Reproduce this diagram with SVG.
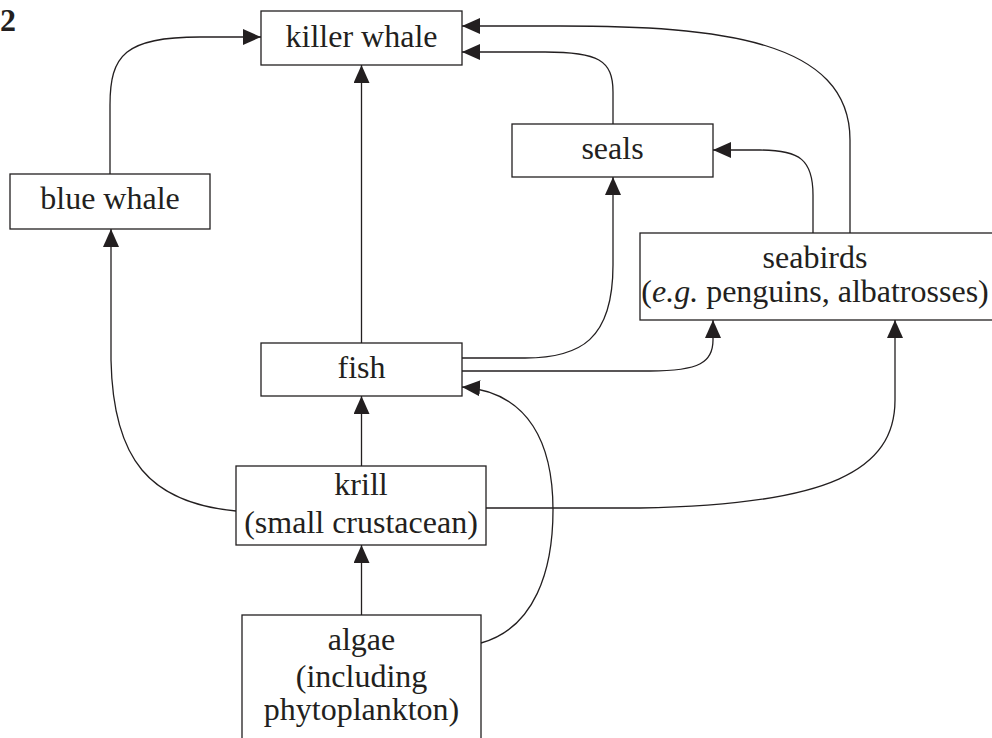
<svg xmlns="http://www.w3.org/2000/svg" width="992" height="738" viewBox="0 0 992 738">
<style>
.box{fill:#fff;stroke:#231f20;stroke-width:1.3}
.t{font-family:"Liberation Serif","Times New Roman",serif;font-size:32px;fill:#231f20;text-anchor:middle}
.c{fill:none;stroke:#231f20;stroke-width:1.3}
</style>
<defs>
<marker id="ah" markerUnits="userSpaceOnUse" markerWidth="20" markerHeight="16" refX="18" refY="8" orient="auto">
<path d="M0,0 L18,8 L0,16 Z" fill="#231f20"/>
</marker>
</defs>
<rect width="992" height="738" fill="#fff"/>
<text x="0" y="31" style="font-family:'Liberation Serif','Times New Roman',serif;font-size:32px;font-weight:bold;fill:#231f20">2</text>
<g id="connectors">
<path class="c" marker-end="url(#ah)" d="M110,174 V105 C110,55 125,37 200,37 H261"/>
<path class="c" marker-end="url(#ah)" d="M361.5,343 V65"/>
<path class="c" marker-end="url(#ah)" d="M613,124 V92 C613,60 598,52 545,52 H462"/>
<path class="c" marker-end="url(#ah)" d="M850,233 V140 C850,40 720,26 560,26 H462"/>
<path class="c" marker-end="url(#ah)" d="M813,233 V195 C813,160 800,150 760,150 H713"/>
<path class="c" marker-end="url(#ah)" d="M462,358 H525 C580,358 613,340 613,265 V177"/>
<path class="c" marker-end="url(#ah)" d="M462,371 H650 C700,371 713,362 713,340 V320"/>
<path class="c" marker-end="url(#ah)" d="M481,643 C535,628 553,570 553,510 C553,445 530,392 462,387"/>
<path class="c" marker-end="url(#ah)" d="M361.5,466 V396"/>
<path class="c" marker-end="url(#ah)" d="M361.5,615 V545"/>
<path class="c" marker-end="url(#ah)" d="M236,511 C150,503 113,460 111,360 V229"/>
<path class="c" marker-end="url(#ah)" d="M486,508 H640 C830,505 895,470 895,400 V320"/>
</g>
<g id="killer-whale">
<rect class="box" x="261" y="11" width="201" height="54"/>
<text class="t" x="361.5" y="47">killer whale</text>
</g>
<g id="blue-whale">
<rect class="box" x="10" y="174" width="200" height="55"/>
<text class="t" x="110" y="209">blue whale</text>
</g>
<g id="seals">
<rect class="box" x="512" y="124" width="201" height="53"/>
<text class="t" x="612.5" y="159">seals</text>
</g>
<g id="seabirds">
<rect class="box" x="640" y="233" width="360" height="87"/>
<text class="t" x="815" y="268">seabirds</text>
<text class="t" x="815" y="302">(<tspan font-style="italic">e.g.</tspan> penguins, albatrosses)</text>
</g>
<g id="fish">
<rect class="box" x="261" y="343" width="201" height="53"/>
<text class="t" x="361.5" y="378">fish</text>
</g>
<g id="krill">
<rect class="box" x="236" y="466" width="250" height="79"/>
<text class="t" x="361" y="495">krill</text>
<text class="t" x="361" y="533">(small crustacean)</text>
</g>
<g id="algae">
<rect class="box" x="242" y="615" width="239" height="140"/>
<text class="t" x="361.5" y="650">algae</text>
<text class="t" x="361.5" y="687">(including</text>
<text class="t" x="361.5" y="720">phytoplankton)</text>
</g>
</svg>
